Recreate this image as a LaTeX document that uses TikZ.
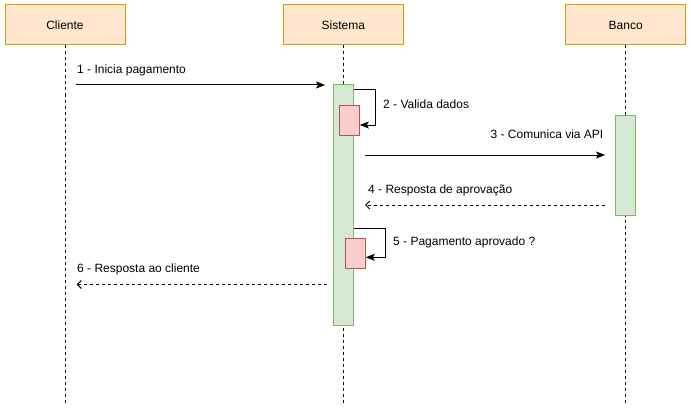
\documentclass[tikz,border=0pt]{standalone}
\usepackage{fontspec}
\setmainfont{Liberation Sans}
\usetikzlibrary{arrows.meta,calc}
\definecolor{hdrF}{HTML}{FFE6CC}
\definecolor{hdrS}{HTML}{D79B00}
\definecolor{actF}{HTML}{D5E8D4}
\definecolor{actS}{HTML}{82B366}
\definecolor{redF}{HTML}{F8CECC}
\definecolor{redS}{HTML}{B85450}
\begin{document}
\begin{tikzpicture}[x=1pt,y=-1pt,
  txt/.style={font=\fontsize{12}{14}\selectfont},
  head/.style={draw=hdrS,fill=hdrF,line width=1pt,minimum width=120pt,minimum height=40pt,inner sep=0pt,txt},
  life/.style={line width=1pt,dash pattern=on 3pt off 3pt},
  actbox/.style={draw=actS,fill=actF,line width=1pt,minimum width=20pt,inner sep=0pt},
  redbox/.style={draw=redS,fill=redF,line width=1pt,minimum width=20pt,minimum height=30pt,inner sep=0pt},
  msg/.style={line width=1pt,-{Stealth[length=9pt,width=7pt,inset=2pt]}},
  ret/.style={line width=1pt,dash pattern=on 3pt off 3pt,-{Straight Barb[length=4pt,width=8pt]}},
  lbl/.style={txt,inner sep=0pt}]
\useasboundingbox (0,0) rectangle (691,412);
\fill[white] (0,0) rectangle (691,412);
% headers
\node[head] (cli) at (65,25) {Cliente};
\node[head] (sis) at (343.3,25) {Sistema};
\node[head] (ban) at (625.7,25) {Banco};
% lifelines
\coordinate (cliEnd) at (65,405);
\coordinate (sisEnd) at (343.3,405);
\coordinate (banEnd) at (625.7,405);
\draw[life] (cli.south) -- (cliEnd);
\draw[life] (sis.south) -- (sisEnd);
\draw[life] (ban.south) -- (banEnd);
% activations
\node[actbox,minimum height=240pt] (sact) at (343.3,205) {};
\node[actbox,minimum height=100pt] (bact) at (625.7,165) {};
\node[redbox] (r1) at (349.3,120) {};
\node[redbox] (r2) at (355.3,253.3) {};
% message 1
\coordinate (m1s) at (76,85);
\coordinate (m1e) at (325,85);
\draw[msg] (m1s) -- (m1e);
\node[lbl,anchor=base west] (l1) at (77,74) {1 - Inicia pagamento};
% self message 2
\coordinate (s2a) at (sact.east |- 0,89.5);
\coordinate (s2b) at (375.7,89.5);
\coordinate (s2c) at (375.7,125);
\draw[msg] (s2a) -- (s2b) -- (s2c) -- (r1.east |- s2c);
\node[lbl,anchor=base west] (l2) at (383,109) {2 - Valida dados};
% message 3
\coordinate (m3s) at (365,155);
\coordinate (m3e) at (605,155);
\draw[msg] (m3s) -- (m3e);
\node[lbl,anchor=base east] (l3) at (603.5,139) {3 - Comunica via API};
% message 4
\coordinate (m4s) at (605,205);
\coordinate (m4e) at (365,205);
\draw[ret] (m4s) -- (m4e);
\node[lbl,anchor=base west] (l4) at (368,193) {4 - Resposta de aprovação};
% self message 5
\coordinate (s5a) at (sact.east |- 0,228.5);
\coordinate (s5b) at (385.7,228.5);
\coordinate (s5c) at (385.7,257.3);
\draw[msg] (s5a) -- (s5b) -- (s5c) -- (r2.east |- s5c);
\node[lbl,anchor=base west] (l5) at (393,245) {5 - Pagamento aprovado ?};
% message 6
\coordinate (m6s) at (326.7,284.5);
\coordinate (m6e) at (76.7,284.5);
\draw[ret] (m6s) -- (m6e);
\node[lbl,anchor=base west] (l6) at (77,272) {6 - Resposta ao cliente};
\end{tikzpicture}
\end{document}
